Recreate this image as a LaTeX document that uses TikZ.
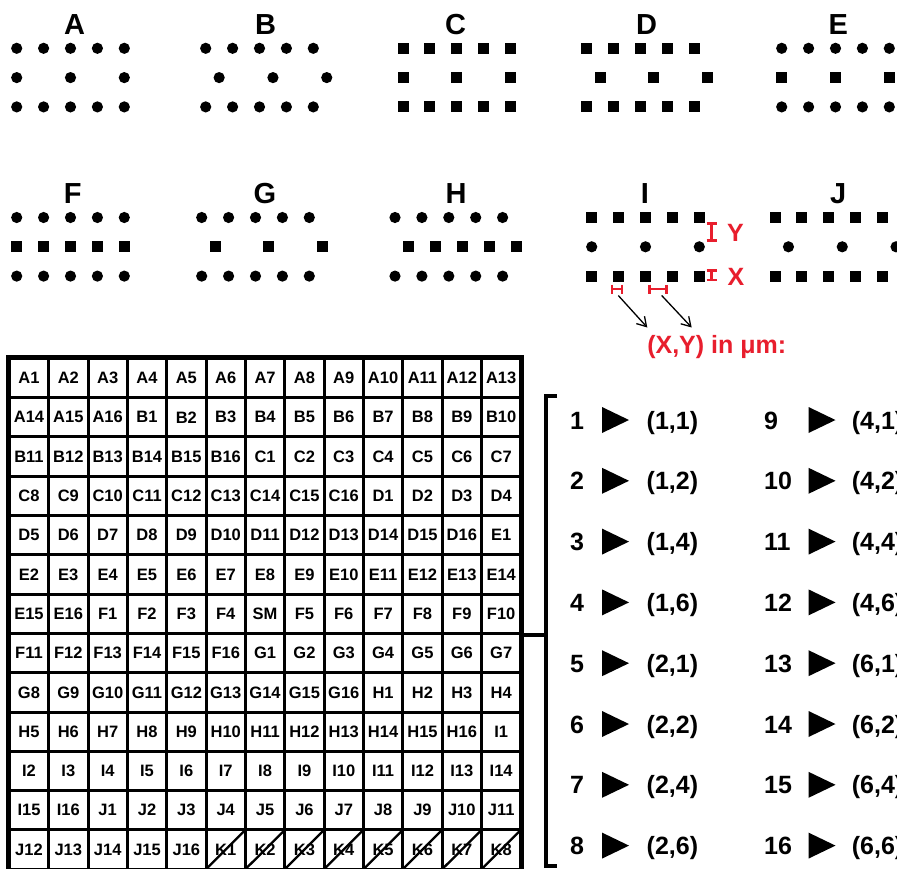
\documentclass[tikz,border=0pt]{standalone}
\usepackage{fontspec}
\setmainfont{Liberation Sans}
\usetikzlibrary{arrows.meta}
\definecolor{annred}{RGB}{232,30,45}
\newcommand\pdot[2]{\fill ({#1},{#2}) circle[radius=5.6pt];}
\newcommand\psq[2]{\fill ({#1-5.5},{#2-5.5}) rectangle ++(11,11);}
% #1 x0, #2 y of top row, #3 outer-row mark, #4 middle-row mark, #5 middle offsets
\newcommand\patt[5]{%
  \foreach \k in {0,...,4}{#3{#1+\k*26.9}{#2}#3{#1+\k*26.9}{#2+58.6}}
  \foreach \k in {#5}{#4{#1+\k*26.9}{#2+29.3}}}
\newcommand\tri[2]{\fill (#1,{#2-13}) -- ({#1+27},#2) -- (#1,{#2+13}) -- cycle;}
\begin{document}
\begin{tikzpicture}[x=1pt,y=-1pt,
  lbl/.style={anchor=base,inner sep=0pt,font=\bfseries\fontsize{29}{29}\selectfont},
  cell/.style={draw,line width=3pt,minimum width=39.35pt,minimum height=39.3pt,inner sep=0pt,
    font=\bfseries\fontsize{16.5}{16.5}\selectfont},
  slash/.style={line width=2.3pt},
  brk/.style={line width=4pt},
  num/.style={anchor=base west,inner sep=0pt,font=\bfseries\fontsize{25}{25}\selectfont},
  redtxt/.style={text=annred,inner sep=0pt,font=\bfseries\fontsize{25}{25}\selectfont},
  beam/.style={draw=annred,line width=2.5pt},
  arr/.style={line width=1.3pt,-{Straight Barb[length=9pt,width=11pt,line width=1.3pt]}}]
\useasboundingbox (0,0) rectangle (897,868);
\fill[white] (0,0) rectangle (897,868);
% ---- top labels
\node[lbl] (lA) at (74.7,34) {A};
\node[lbl] (lB) at (265.7,34) {B};
\node[lbl] (lC) at (455.7,34) {C};
\node[lbl] (lD) at (646.7,34) {D};
\node[lbl] (lE) at (838.3,34) {E};
\node[lbl] (lF) at (72.7,203) {F};
\node[lbl] (lG) at (265,203) {G};
\node[lbl] (lH) at (456,203) {H};
\node[lbl] (lI) at (645,203) {I};
\node[lbl] (lJ) at (838.3,203) {J};
% ---- patterns
\patt{16.7}{48.3}{\pdot}{\pdot}{0,2,4}
\patt{205.7}{48.3}{\pdot}{\pdot}{0.5,2.5,4.5}
\patt{403}{48.3}{\psq}{\psq}{0,2,4}
\patt{586.7}{48.3}{\psq}{\psq}{0.5,2.5,4.5}
\patt{781.7}{48.3}{\pdot}{\psq}{0,2,4}
\patt{16.7}{217.5}{\pdot}{\psq}{0,1,2,3,4}
\patt{201.7}{217.5}{\pdot}{\psq}{0.5,2.5,4.5}
\patt{395}{217.5}{\pdot}{\psq}{0.5,1.5,2.5,3.5,4.5}
\patt{591.7}{217.5}{\psq}{\pdot}{0,2,4}
\patt{775}{217.5}{\psq}{\pdot}{0.5,2.5,4.5}
% ---- red annotations
\draw[beam] (706.7,223.5) -- (716.7,223.5) (711.7,223.5) -- (711.7,240.5) (706.7,240.5) -- (716.7,240.5);
\draw[beam] (706.7,270.5) -- (716.7,270.5) (711.7,270.5) -- (711.7,280) (706.7,280) -- (716.7,280);
\node[redtxt] (tY) at (735.5,233) {Y};
\node[redtxt] (tX) at (736,276.5) {X};
\draw[beam] (612,284.5) -- (612,293.5) (612,289) -- (622,289) (622,284.5) -- (622,293.5);
\draw[beam] (649.5,284.5) -- (649.5,293.5) (649.5,289) -- (666.5,289) (666.5,284.5) -- (666.5,293.5);
\node[redtxt] (xy) at (716.7,347) {(X,Y) in μm:};
\coordinate (s1) at (618.3,295.5);
\coordinate (e1) at (647.3,327.5);
\coordinate (s2) at (661.7,295.5);
\coordinate (e2) at (691.7,327.5);
\draw[arr] (s1) -- (e1);
\draw[arr] (s2) -- (e2);
% ---- grid
\foreach \t [count=\i from 0] in {A1,A2,A3,A4,A5,A6,A7,A8,A9,A10,A11,A12,A13,
  A14,A15,A16,B1,B2,B3,B4,B5,B6,B7,B8,B9,B10,
  B11,B12,B13,B14,B15,B16,C1,C2,C3,C4,C5,C6,C7,
  C8,C9,C10,C11,C12,C13,C14,C15,C16,D1,D2,D3,D4,
  D5,D6,D7,D8,D9,D10,D11,D12,D13,D14,D15,D16,E1,
  E2,E3,E4,E5,E6,E7,E8,E9,E10,E11,E12,E13,E14,
  E15,E16,F1,F2,F3,F4,SM,F5,F6,F7,F8,F9,F10,
  F11,F12,F13,F14,F15,F16,G1,G2,G3,G4,G5,G6,G7,
  G8,G9,G10,G11,G12,G13,G14,G15,G16,H1,H2,H3,H4,
  H5,H6,H7,H8,H9,H10,H11,H12,H13,H14,H15,H16,I1,
  I2,I3,I4,I5,I6,I7,I8,I9,I10,I11,I12,I13,I14,
  I15,I16,J1,J2,J3,J4,J5,J6,J7,J8,J9,J10,J11,
  J12,J13,J14,J15,J16,K1,K2,K3,K4,K5,K6,K7,K8}{%
  \pgfmathtruncatemacro\rr{int(\i/13)}%
  \pgfmathtruncatemacro\cc{mod(\i,13)}%
  \node[cell] (c\i) at ({9.3+(\cc+0.5)*39.35},{358.3+(\rr+0.5)*39.3}) {\t};}
\draw[line width=4pt] (c0.north west) rectangle (c168.south east);
\foreach \i in {161,...,168}{\draw[slash] (c\i.south west) -- (c\i.north east);}
% ---- bracket
\coordinate (b1) at (557,395.5);
\coordinate (b2) at (545.5,395.5);
\coordinate (b3) at (545.5,866);
\coordinate (b4) at (557,866);
\draw[brk] (b1) -- (b2) -- (b3) -- (b4);
\draw[brk] (c90.south east) -- (b2 |- c90.south east);
% ---- list
\foreach \n/\v [count=\j from 0] in {1/{(1,1)},2/{(1,2)},3/{(1,4)},4/{(1,6)},5/{(2,1)},6/{(2,2)},7/{(2,4)},8/{(2,6)}}{%
  \node[num] (n\n) at (570,{420+\j*60.8+9}) {\n};
  \tri{602}{420+\j*60.8}
  \node[num] (v\n) at (646.5,{420+\j*60.8+9}) {\v};}
\foreach \n/\v [count=\j from 0] in {9/{(4,1)},10/{(4,2)},11/{(4,4)},12/{(4,6)},13/{(6,1)},14/{(6,2)},15/{(6,4)},16/{(6,6)}}{%
  \node[num] (n\n) at (764,{420+\j*60.8+9}) {\n};
  \tri{808.5}{420+\j*60.8}
  \node[num] (v\n) at (851.7,{420+\j*60.8+9}) {\v};}
\end{tikzpicture}
\end{document}
